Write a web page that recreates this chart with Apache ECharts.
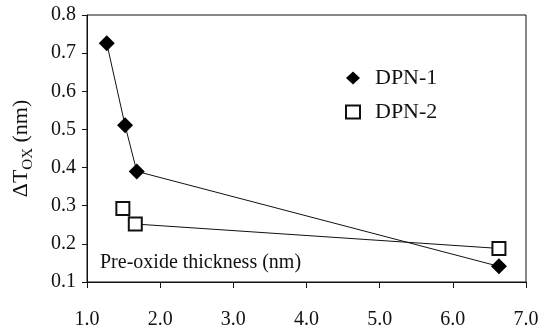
<!DOCTYPE html>
<html>
<head>
<meta charset="utf-8">
<script src="https://cdn.jsdelivr.net/npm/echarts@6/dist/echarts.min.js"></script>
<style>html,body{margin:0;padding:0;background:#fff;}#c{width:559px;height:331px;}</style>
</head>
<body>
<div id="c"></div>
<script>
var dpn1X = [1.27, 1.52, 1.68, 6.63];
var dpn1Y = [0.726, 0.511, 0.390, 0.141];
var dpn2X = [1.49, 1.66, 6.63];
var dpn2Y = [0.293, 0.252, 0.188];
var seriesNames = ['DPN-1', 'DPN-2'];
var xLabel = 'Pre-oxide thickness (nm)';

function pairs(xs, ys) { return xs.map(function (x, i) { return [x, ys[i]]; }); }

var font = '"Liberation Serif", "Times New Roman", serif';
var chart = echarts.init(document.getElementById('c'));
chart.setOption({
  backgroundColor: '#fff',
  animation: false,
  grid: { left: 87, right: 33, top: 15, bottom: 49, show: true, borderColor: '#111', borderWidth: 1 },
  legend: {
    orient: 'vertical', left: 340, top: 62, itemGap: 12, itemWidth: 14, itemHeight: 13,
    textStyle: { fontFamily: font, fontSize: 22, color: '#111', padding: [0, 0, 0, 10] },
    data: [
      { name: seriesNames[0], icon: 'diamond' },
      { name: seriesNames[1], icon: 'rect', itemStyle: { color: '#fff', borderColor: '#111', borderWidth: 2 } }
    ]
  },
  graphic: [{
    type: 'text', left: 100, top: 253,
    style: { text: xLabel, font: '20px ' + font, fill: '#111' }
  }],
  xAxis: {
    type: 'value', min: 1, max: 7, interval: 1,
    axisLine: { lineStyle: { color: '#111', width: 1 } },
    axisTick: { show: true, length: 6, lineStyle: { color: '#111' } },
    axisLabel: { margin: 28, fontFamily: font, fontSize: 20, color: '#111', formatter: function (v) { return v.toFixed(1); } },
    splitLine: { show: false }
  },
  yAxis: {
    type: 'value', min: 0.1, max: 0.8, interval: 0.1,
    axisLine: { show: true, lineStyle: { color: '#111', width: 1 } },
    axisTick: { show: true, length: 5, lineStyle: { color: '#111' } },
    axisLabel: { margin: 11, fontFamily: font, fontSize: 20, color: '#111', formatter: function (v) { return v.toFixed(1); } },
    splitLine: { show: false },
    name: '{a|ΔT}{b|OX}{a| (nm)}',
    nameLocation: 'middle', nameRotate: 90, nameGap: 55,
    nameTextStyle: {
      rich: {
        a: { fontFamily: font, fontSize: 22, color: '#111', lineHeight: 26, verticalAlign: 'bottom' },
        b: { fontFamily: font, fontSize: 15, color: '#111', lineHeight: 14, verticalAlign: 'bottom', padding: [0, 0, -4, 0] }
      }
    }
  },
  series: [
    {
      name: seriesNames[0], type: 'line', data: pairs(dpn1X, dpn1Y),
      symbol: 'diamond', symbolSize: 16,
      itemStyle: { color: '#000' },
      lineStyle: { color: '#111', width: 1 }
    },
    {
      name: seriesNames[1], type: 'line', data: pairs(dpn2X, dpn2Y),
      symbol: 'rect', symbolSize: 13,
      itemStyle: { color: '#fff', borderColor: '#111', borderWidth: 2 },
      lineStyle: { color: '#111', width: 1 }
    }
  ]
});
</script>
</body>
</html>
